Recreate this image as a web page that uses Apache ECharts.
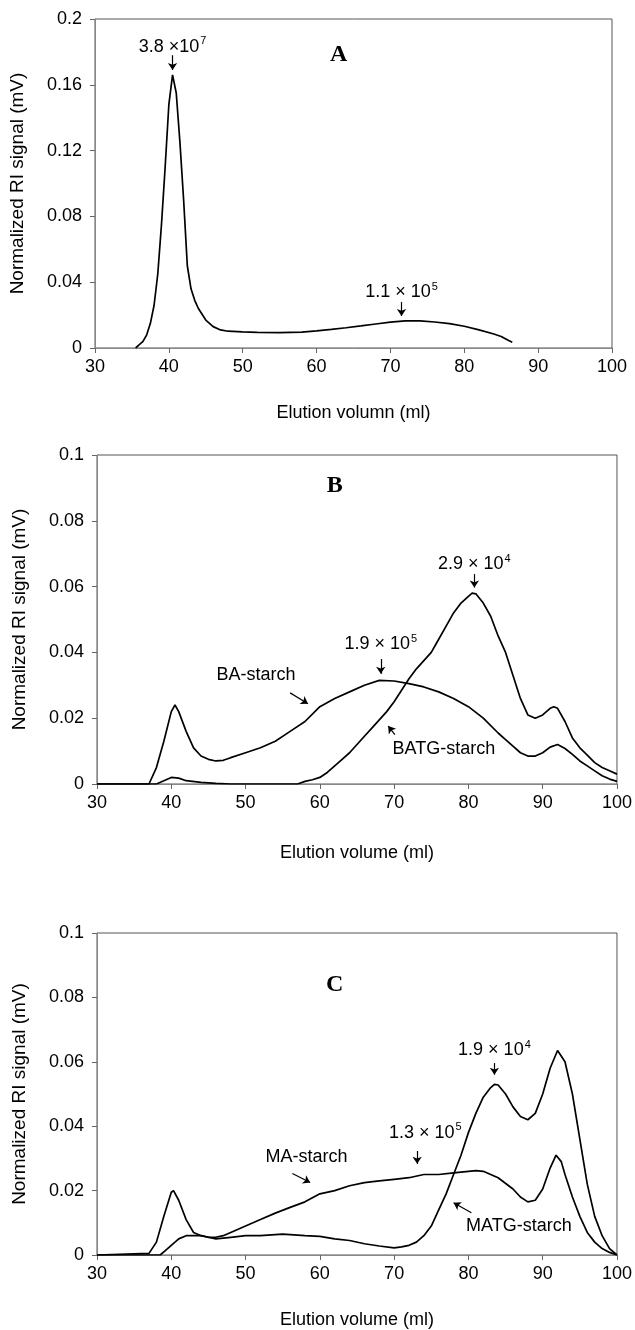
<!DOCTYPE html>
<html><head><meta charset="utf-8">
<script src="https://cdn.jsdelivr.net/npm/echarts@6/dist/echarts.min.js"></script>
<style>html,body{margin:0;padding:0;background:#fff}#c{width:635px;height:1330px}</style>
</head><body><div id="c"></div>
<script>
// ---------- DATA ----------
const xTickLabels = [30, 40, 50, 60, 70, 80, 90, 100];
// Panel A
const aVol = [35.5,36,36.5,37,37.5,38,38.5,39,39.5,40,40.5,41,41.5,42,42.5,43,43.5,44,45,46,47,48,50,52,55,58,60,62,64,66,68,70,72,74,76,78,80,82,84,85,86,86.5];
const aSig = [0,0.002,0.004,0.008,0.015,0.026,0.045,0.075,0.11,0.148,0.166,0.155,0.125,0.09,0.05,0.036,0.029,0.024,0.017,0.013,0.011,0.0102,0.0098,0.0095,0.0094,0.0097,0.0104,0.0113,0.0123,0.0134,0.0146,0.0157,0.0165,0.0165,0.0158,0.0148,0.0132,0.011,0.0085,0.007,0.0045,0.0035];
// Panel B
const baVol = [30,37,38,39,40,40.5,41,42,43,44,45,46,47,48,50,52,54,56,58,60,62,64,66,68,70,72,74,76,78,80,82,84,85,86,87,88,89,90,91,92,93,94,95,96,97,98,99,100];
const baSig = [0,0,0.005,0.013,0.022,0.024,0.022,0.016,0.011,0.0085,0.0075,0.007,0.0072,0.008,0.0095,0.011,0.013,0.016,0.019,0.0235,0.026,0.028,0.030,0.0315,0.0313,0.0305,0.0295,0.028,0.026,0.0235,0.020,0.0155,0.0135,0.0115,0.0095,0.0085,0.0085,0.0095,0.0112,0.012,0.0108,0.009,0.007,0.0055,0.004,0.0025,0.0015,0.0008];
const batgVol = [30,38,39,40,41,42,44,46,48,57,58,59,60,61,62,63,64,65,66,67,68,69,70,71,72,73,74,75,76,77,78,79,80,80.5,81,82,83,84,85,86,87,88,89,90,91,91.5,92,93,94,95,96,97,98,99,100];
const batgSig = [0,0,0.001,0.002,0.0018,0.001,0.0005,0.0002,0,0,0.0008,0.0013,0.002,0.0035,0.0055,0.0075,0.0095,0.012,0.0145,0.017,0.0195,0.022,0.025,0.0285,0.032,0.035,0.0375,0.040,0.044,0.048,0.052,0.055,0.057,0.058,0.0578,0.055,0.051,0.045,0.040,0.033,0.026,0.021,0.020,0.021,0.023,0.0235,0.023,0.019,0.014,0.011,0.0088,0.0065,0.005,0.004,0.003];
// Panel C
const maVol = [30,37,38,39,40,40.3,41,42,43,44,45,46,47,48,50,52,54,56,58,60,62,64,66,68,70,72,74,76,78,80,81,82,84,86,87,88,89,90,91,91.8,92.5,93,94,95,96,97,98,99,100];
const maSig = [0,0.0005,0.004,0.012,0.0195,0.020,0.017,0.011,0.007,0.006,0.0055,0.0055,0.006,0.007,0.009,0.011,0.013,0.0148,0.0165,0.019,0.020,0.0215,0.0225,0.023,0.0235,0.024,0.025,0.025,0.0255,0.026,0.0262,0.026,0.024,0.0205,0.018,0.0165,0.017,0.0205,0.027,0.031,0.029,0.025,0.018,0.012,0.007,0.004,0.002,0.0008,0];
const matgVol = [30,38.5,39,40,41,42,43,44,45,46,48,50,52,55,58,60,62,64,66,68,70,71,72,73,74,75,76,77,78,79,80,81,82,83,83.5,84,85,86,87,88,89,90,91,92,93,94,95,96,97,98,99,100];
const matgSig = [0,0,0.001,0.003,0.005,0.006,0.006,0.006,0.0055,0.005,0.0055,0.006,0.006,0.0065,0.006,0.0058,0.005,0.0045,0.0035,0.0028,0.0022,0.0025,0.003,0.004,0.006,0.009,0.014,0.019,0.025,0.031,0.038,0.044,0.049,0.052,0.053,0.0528,0.050,0.046,0.043,0.042,0.044,0.050,0.058,0.0635,0.060,0.050,0.036,0.022,0.012,0.006,0.002,0];
// Annotations (data coordinates)
const textA = [{x:40.5,y:0.183,t:'3.8 ×10',s:'7'},{x:71.5,y:0.034,t:'1.1 × 10',s:'5'}];
const arrowA = [[40.5,0.178,40.5,0.169],[71.5,0.028,71.5,0.0195]];
const letterA = {x:63,y:0.178,t:'A'};
const textB = [{x:51.4,y:0.033,t:'BA-starch'},{x:68.2,y:0.0424,t:'1.9 × 10',s:'5'},{x:80.8,y:0.0668,t:'2.9 × 10',s:'4'},{x:76.7,y:0.0105,t:'BATG-starch'}];
const arrowB = [[56,0.0277,58.4,0.0244],[68.2,0.038,68.2,0.0335],[80.8,0.0638,80.8,0.0597],[70.1,0.015,69.2,0.0176]];
const letterB = {x:62,y:0.0907,t:'B'};
const textC = [{x:58.2,y:0.0303,t:'MA-starch'},{x:74.2,y:0.0379,t:'1.3 × 10',s:'5'},{x:83.5,y:0.0636,t:'1.9 × 10',s:'4'},{x:86.8,y:0.0091,t:'MATG-starch'}];
const arrowC = [[56.3,0.0253,58.7,0.0225],[73.1,0.0323,73.1,0.0283],[83.5,0.0596,83.5,0.056],[80.4,0.0131,78,0.0162]];
const letterC = {x:62,y:0.084,t:'C'};

// ---------- BUILD ----------
const zip = (xs, ys) => xs.map((x, i) => [x, ys[i]]);
const FONT = 'Liberation Sans, Arial, sans-serif';
const grids = [
  {left: 90, top: 19, right: 23, height: 329},
  {left: 97, top: 455, right: 18, height: 329},
  {left: 97, top: 933, right: 18, height: 329}
];
const xNames = ['Elution volumn (ml)', 'Elution volume (ml)', 'Elution volume (ml)'];
const xNameGap = [56, 60, 56];
const yMax = [0.2, 0.1, 0.1];
const yInt = [0.04, 0.02, 0.02];

function textPoint(a) {
  const f = a.s ? '{n|' + a.t + '}{s|' + a.s + '}' : '{n|' + a.t + '}';
  return {coord: [a.x, a.y], symbol: 'rect', symbolSize: 1, itemStyle: {color: 'rgba(0,0,0,0)'},
    label: {show: true, position: 'inside', formatter: f,
      rich: {n: {fontFamily: FONT, fontSize: 18, color: '#000', lineHeight: 22},
             s: {fontFamily: FONT, fontSize: 11, color: '#000', lineHeight: 22, verticalAlign: 'top', padding: [0,0,0,1]}}}};
}
function letterPoint(a) {
  return {coord: [a.x, a.y], symbol: 'rect', symbolSize: 1, itemStyle: {color: 'rgba(0,0,0,0)'},
    label: {show: true, position: 'inside', formatter: a.t, fontFamily: 'Liberation Serif, Times New Roman, serif', fontWeight: 'bold', fontSize: 24, color: '#000'}};
}
function arrowLines(arr) {
  return arr.map(r => [{coord: [r[0], r[1]]}, {coord: [r[2], r[3]]}]);
}
function annot(texts, letter, arrows) {
  return {
    markPoint: {silent: true, animation: false, data: texts.map(textPoint).concat([letterPoint(letter)])},
    markLine: {silent: true, animation: false, symbol: ['none', 'arrow'], symbolSize: 7,
      lineStyle: {type: 'solid', color: '#000', width: 1.2}, label: {show: false}, data: arrowLines(arrows)}
  };
}
const lineStyle = {color: '#000', width: 1.7};
function curve(idx, data, extra) {
  return Object.assign({type: 'line', xAxisIndex: idx, yAxisIndex: idx, data: data, showSymbol: false,
    symbol: 'none', lineStyle: lineStyle, z: 3}, extra || {});
}

const xAxes = [], yAxes = [];
grids.forEach((g, i) => {
  xAxes.push({type: 'value', gridIndex: i, min: 30, max: 100, interval: 10,
    axisLine: {onZero: false, lineStyle: {color: '#888', width: 1}},
    axisTick: {show: true, inside: false, length: 5, lineStyle: {color: '#666'}},
    splitLine: {show: false},
    axisLabel: {fontFamily: FONT, fontSize: 18, color: '#000', margin: 10,
      formatter: v => xTickLabels.includes(v) ? String(v) : ''},
    name: xNames[i], nameLocation: 'middle', nameGap: xNameGap[i],
    nameTextStyle: {fontFamily: FONT, fontSize: 18, color: '#000'}});
  yAxes.push({type: 'value', gridIndex: i, min: 0, max: yMax[i], interval: yInt[i],
    axisLine: {show: true, lineStyle: {color: '#888', width: 1}},
    axisTick: {show: true, inside: false, length: 5, lineStyle: {color: '#666'}},
    splitLine: {show: false},
    axisLabel: {fontFamily: FONT, fontSize: 18, color: '#000', margin: 13,
      formatter: v => v === 0 ? '0' : String(+v.toFixed(2))},
    name: 'Normalized RI signal (mV)', nameLocation: 'middle', nameGap: 68,
    nameTextStyle: {fontFamily: FONT, fontSize: 19, color: '#000'}});
});

const series = [
  curve(0, zip(aVol, aSig), annot(textA, letterA, arrowA)),
  curve(1, zip(baVol, baSig), annot(textB, letterB, arrowB)),
  curve(1, zip(batgVol, batgSig)),
  curve(2, zip(maVol, maSig), annot(textC, letterC, arrowC)),
  curve(2, zip(matgVol, matgSig))
];

const chart = echarts.init(document.getElementById('c'), null, {renderer: 'canvas'});
chart.setOption({
  animation: false,
  backgroundColor: '#fff',
  grid: grids.map(g => Object.assign({show: true, borderColor: '#555', borderWidth: 1, backgroundColor: 'transparent'}, g)),
  xAxis: xAxes,
  yAxis: yAxes,
  series: series
});
</script>
</body></html>
